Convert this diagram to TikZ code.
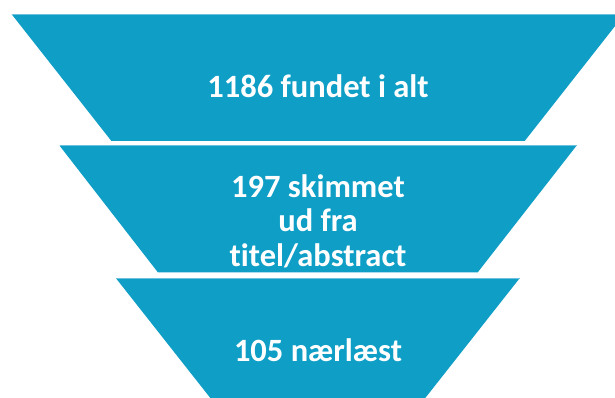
\documentclass[tikz,border=0pt]{standalone}
\usepackage{fontspec}
\setmainfont{Carlito}[Ligatures={NoCommon}]
\definecolor{funnel}{HTML}{0E9EC6}
\definecolor{funnelrim}{HTML}{6CC2DE}
\begin{document}
\begin{tikzpicture}[x=1pt,y=1pt,
  lbl/.style={anchor=base,inner sep=0pt,text=white,font=\fontsize{32.5}{35}\selectfont\bfseries},
  trap/.style={fill=funnel,draw=none},
  rim/.style={draw=funnelrim,line width=0.8pt}]
\useasboundingbox (0,0) rectangle (615,398);
\clip (0,0) rectangle (615,398);
% level 1
\path[trap] (11.7,383.7) -- (624.3,383.7) -- (524.7,257) -- (111.4,257) -- cycle;
\draw[rim] (11.7,383.7) -- (624.3,383.7);
% level 2
\path[trap] (59.6,252.3) -- (576.5,252.3) -- (477.6,125.5) -- (158,125.5) -- cycle;
\draw[rim] (59.6,252.3) -- (576.5,252.3);
% level 3
\path[trap] (116,119.7) -- (519.6,119.7) -- (415.8,-12) -- (219.8,-12) -- cycle;
\draw[rim] (116,119.7) -- (519.6,119.7);
% labels
\node[lbl] (t1) at (318,300.3) {1186 fundet i alt};
\node[lbl] (t2a) at (318,200.3) {197 skimmet};
\node[lbl] (t2b) at (318,166.3) {ud fra};
\node[lbl] (t2c) at (318,131.3) {titel/abstract};
\node[lbl] (t3) at (318,36.3) {105 nærlæst};
\end{tikzpicture}
\end{document}
